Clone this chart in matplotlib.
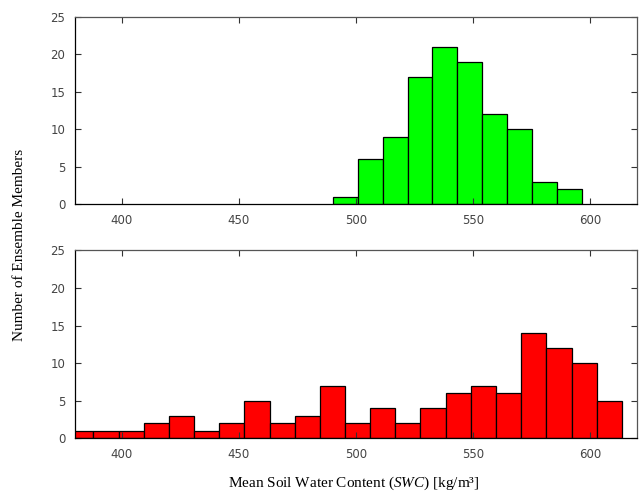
import matplotlib
matplotlib.use("Agg")
import matplotlib.pyplot as plt
import numpy as np

plt.rcParams['mathtext.fontset'] = 'custom'
plt.rcParams['mathtext.rm'] = 'Liberation Serif'
plt.rcParams['mathtext.it'] = 'Liberation Serif:italic'

# Bin edges and counts
top_edges = [490.0, 500.7, 511.3, 522.0, 532.6, 543.3, 553.9, 564.6, 575.2, 585.9, 596.5]
top_counts = [1, 6, 9, 17, 21, 19, 12, 10, 3, 2]

bottom_edges = [377.1, 387.8, 398.6, 409.3, 420.1, 430.8, 441.6, 452.3, 463.1, 473.8, 484.5,
                495.3, 506.0, 516.8, 527.5, 538.3, 549.0, 559.7, 570.5, 581.2, 592.0, 602.7, 613.5]
bottom_counts = [1, 1, 1, 2, 3, 1, 2, 5, 2, 3, 7, 2, 4, 2, 4, 6, 7, 6, 14, 12, 10, 5]

x_ticks = [400, 450, 500, 550, 600]
y_ticks = [0, 5, 10, 15, 20, 25]

fig = plt.figure(figsize=(6.41, 4.98), dpi=100)
ax1 = fig.add_axes([0.117, 0.590, 0.877, 0.376])
ax2 = fig.add_axes([0.117, 0.120, 0.877, 0.377])


def histo(ax, edges, counts, color):
    edges = np.array(edges)
    ax.bar(edges[:-1], counts, width=np.diff(edges), align='edge',
           color=color, edgecolor='black', linewidth=0.9)
    ax.set_xlim(380, 620)
    ax.set_ylim(0, 25)
    ax.set_xticks(x_ticks)
    ax.set_yticks(y_ticks)
    ax.tick_params(direction='in', top=True, right=True, length=4, width=0.8,
                   labelsize=8.5, labelcolor='#444444', color='#333333', pad=7)
    for s in ax.spines.values():
        s.set_color('#555555')
        s.set_linewidth(0.9)
    ax.spines['left'].set_color('black')
    ax.spines['bottom'].set_color('black')


histo(ax1, top_edges, top_counts, '#00ff00')
histo(ax2, bottom_edges, bottom_counts, '#ff0000')

fig.text(0.031, 0.508, 'Number of Ensemble Members', rotation=90, ha='center', va='center',
         family='Liberation Serif', fontsize=11)
fig.text(0.552, 0.030, 'Mean Soil Water Content ($\\mathit{SWC}$) [kg/m³]', ha='center', va='center',
         family='Liberation Serif', fontsize=11)

fig.savefig('out.png', dpi=100)
